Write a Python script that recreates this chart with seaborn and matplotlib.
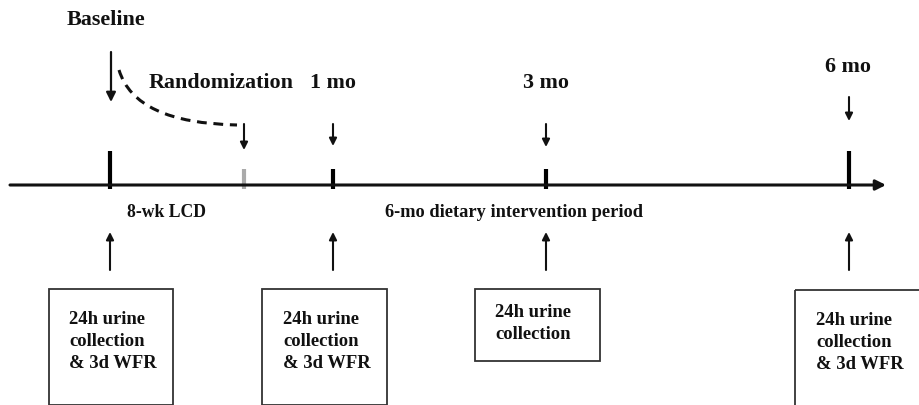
import matplotlib.pyplot as plt
import seaborn as sns
from matplotlib.patches import Rectangle, PathPatch
from matplotlib.path import Path

# timeline points (x position in pixels of the 920x406 canvas)
point_names = ['Baseline', 'Randomization', '1 mo', '3 mo', '6 mo']
point_x = [110, 244, 333, 546, 849]
tick_tall = [True, False, False, False, True]
tick_color = ['black', '#aaaaaa', 'black', 'black', 'black']

# boxes below the timeline, one per measured visit
box_x = [110, 333, 546, 849]
box_text = ['24h urine\ncollection\n& 3d WFR',
            '24h urine\ncollection\n& 3d WFR',
            '24h urine\ncollection',
            '24h urine\ncollection\n& 3d WFR']

period_labels = ['8-wk LCD', '6-mo dietary intervention period']

sns.set_style('white')
plt.rcParams['font.family'] = ['Liberation Serif', 'DejaVu Serif']

fig = plt.figure(figsize=(9.2, 4.06), dpi=100)
ax = fig.add_axes([0, 0, 1, 1])
ax.set_xlim(0, 920)
ax.set_ylim(406, 0)
ax.axis('off')

ink = '#111111'
txt = dict(fontsize=15.8, fontweight='bold', color=ink, ha='center', va='center')
arr = dict(arrowstyle='-|>', color=ink, lw=1.5, mutation_scale=11,
           shrinkA=0, shrinkB=0)

# main axis with arrow
ax.annotate('', xy=(886, 186), xytext=(10, 186), arrowprops=dict(arr, lw=2.2, mutation_scale=15))

# ticks on the timeline
for x, tall, c in zip(point_x, tick_tall, tick_color):
    top = 152 if tall else 170
    ax.plot([x, x], [top, 190], color=c, lw=3, solid_capstyle='butt')

# labels and down arrows
ax.text(106, 20, point_names[0], **txt)
ax.annotate('', xy=(111, 103), xytext=(111, 53), arrowprops=dict(arr, lw=1.6, mutation_scale=14))
ax.text(221, 83, point_names[1], **txt)
ax.annotate('', xy=(244, 151), xytext=(244, 125), arrowprops=arr)
ax.text(333, 83, point_names[2], **txt)
ax.annotate('', xy=(333, 147), xytext=(333, 125), arrowprops=arr)
ax.text(546, 83, point_names[3], **txt)
ax.annotate('', xy=(546, 148), xytext=(546, 125), arrowprops=arr)
ax.text(848, 67, point_names[4], **txt)
ax.annotate('', xy=(849, 122), xytext=(849, 98), arrowprops=arr)

# dashed curve from baseline to randomization
curve = Path([(119, 71), (135, 124), (237, 126)], [Path.MOVETO, Path.CURVE3, Path.CURVE3])
ax.add_patch(PathPatch(curve, fill=False, ec=ink, lw=2.2, ls=(0, (3.2, 2.2))))

# period labels
ax.text(167, 213, period_labels[0], fontsize=12.7, fontweight='bold', color=ink, ha='center', va='center')
ax.text(514, 213, period_labels[1], fontsize=13.2, fontweight='bold', color=ink, ha='center', va='center')

# up arrows and boxes
box_geom = [(49, 290, 124, 116), (262, 290, 125, 116), (475, 290, 125, 72), (795, 291, 126, 116)]
text_pos = [(69, 317), (283, 317), (495, 310), (816, 318)]
for x, (bx, by, bw, bh), (tx, ty), t in zip(box_x, box_geom, text_pos, box_text):
    ax.annotate('', xy=(x, 233), xytext=(x, 271), arrowprops=arr)
    ax.add_patch(Rectangle((bx, by), bw, bh, fill=False, ec='#333333', lw=1.3))
    ax.text(tx, ty - 6, t, ha='left', va='top', linespacing=1.4,
            fontsize=13.4, fontweight='bold', color=ink)

fig.savefig('out.png', dpi=100)
